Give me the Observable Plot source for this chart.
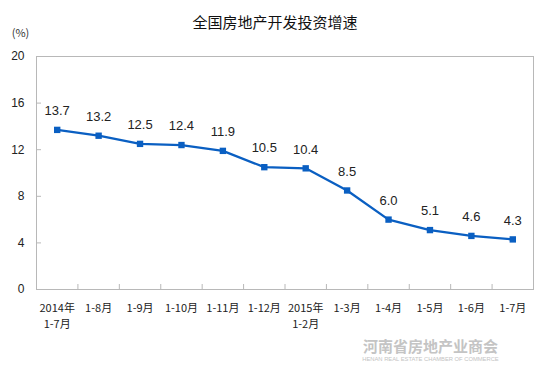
<!DOCTYPE html>
<html>
<head>
<meta charset="utf-8">
<script src="https://cdn.jsdelivr.net/npm/d3@7"></script>
<script src="https://cdn.jsdelivr.net/npm/@observablehq/plot@0.6"></script>
<style>
  html, body { margin: 0; padding: 0; background: #fff; }
</style>
</head>
<body>
<div id="chart"></div>
<script>
const title = "全国房地产开发投资增速";
const unitLabel = "(%)";
const categories = ["2014年\n1-7月", "1-8月", "1-9月", "1-10月", "1-11月", "1-12月", "2015年\n1-2月", "1-3月", "1-4月", "1-5月", "1-6月", "1-7月"];
const values = [13.7, 13.2, 12.5, 12.4, 11.9, 10.5, 10.4, 8.5, 6.0, 5.1, 4.6, 4.3];
const yTicks = [0, 4, 8, 12, 16, 20];
const watermark = "河南省房地产业商会";
const watermarkEn = "HENAN REAL ESTATE CHAMBER OF COMMERCE";

const idx = categories.map((_, i) => i);
const boundaries = idx.slice(0, -1).map(i => i + 0.5);
const data = values.map((v, i) => ({i, v}));
const blue = "#0a5fc2";
const cjk = "'Noto Sans CJK SC', sans-serif";

const chart = Plot.plot({
  width: 548,
  height: 387,
  marginLeft: 36,
  marginRight: 15,
  marginTop: 56,
  marginBottom: 98,
  style: {background: "#fff"},
  x: {type: "linear", domain: [-0.5, categories.length - 0.5], axis: null, label: null},
  y: {domain: [0, 20], axis: null, label: null},
  marks: [
    Plot.frame({stroke: "#b8b8b8"}),
    Plot.axisY({ticks: yTicks, label: null, tickSize: 0, tickPadding: 12, fontSize: 12, fontFamily: "'Liberation Sans', sans-serif", fill: "#222"}),
    Plot.axisY({ticks: yTicks, label: null, tickSize: -5, text: null, stroke: "#b8b8b8"}),
    Plot.axisX({ticks: boundaries, label: null, tickSize: -5, text: null, stroke: "#b8b8b8"}),
    Plot.axisX({ticks: idx, label: null, tickSize: 0, tickPadding: 12, tickFormat: i => categories[i], fontSize: 11, lineHeight: 1.4, fontFamily: cjk, fill: "#222"}),
    Plot.line(data, {x: "i", y: "v", stroke: blue, strokeWidth: 2.3}),
    Plot.dot(data, {x: "i", y: "v", symbol: "square", r: 3.6, fill: blue, stroke: "none"}),
    Plot.text(data, {x: "i", y: "v", text: d => d.v.toFixed(1), dy: -19, fontSize: 13, fontFamily: "'Liberation Sans', sans-serif", fill: "#222"}),
    Plot.text([title], {frameAnchor: "top", dx: -10, dy: -33, lineAnchor: "middle", fontSize: 15, fontFamily: cjk, fill: "#111"}),
    Plot.text([unitLabel], {frameAnchor: "top-left", dx: -16, dy: -23, textAnchor: "middle", lineAnchor: "middle", fontSize: 11, fontFamily: cjk, fill: "#333"}),
    Plot.text([watermark], {frameAnchor: "bottom-right", dx: -103, dy: 58, textAnchor: "middle", lineAnchor: "middle", fontSize: 15, fontWeight: "bold", fontFamily: cjk, fill: "#c4c4c4"}),
    Plot.text([watermarkEn], {frameAnchor: "bottom-right", dx: -103, dy: 70, textAnchor: "middle", lineAnchor: "middle", fontSize: 5.8, fontFamily: "'Liberation Sans', sans-serif", fill: "#c4c4c4"})
  ]
});
document.getElementById("chart").appendChild(chart);
</script>
</body>
</html>
